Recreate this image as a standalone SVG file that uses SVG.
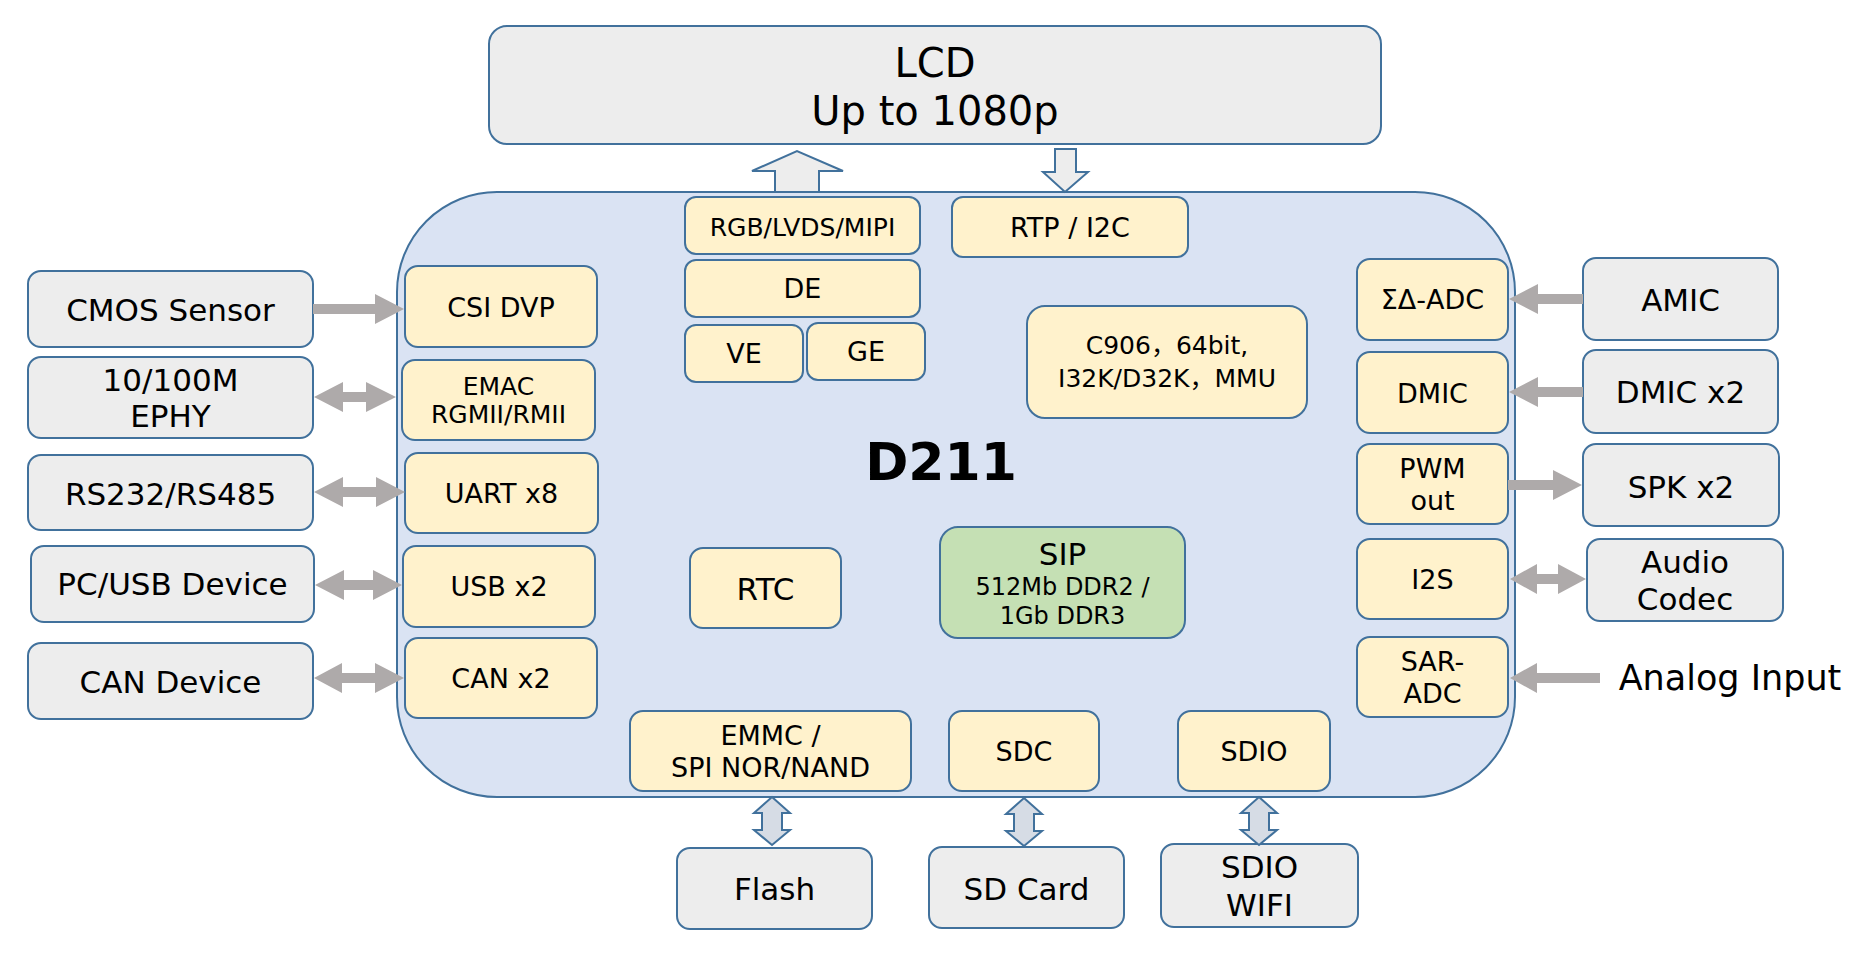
<svg xmlns="http://www.w3.org/2000/svg" width="1867" height="953" viewBox="0 0 1867 953">
<style>
  text { font-family: Verdana, "DejaVu Sans", "Noto Sans CJK SC", sans-serif; fill: #000; text-anchor: middle; }
  .grey { fill: #EDEDED; stroke: #41719C; stroke-width: 2; }
  .yel { fill: #FFF2CC; stroke: #41719C; stroke-width: 2; }
  .chip { fill: #DAE3F3; stroke: #41719C; stroke-width: 2; }
  .sip { fill: #C5E0B4; stroke: #41719C; stroke-width: 2; }
  .arr { fill: #AEAAAA; stroke: none; }
  .hol { fill: #EDEDED; stroke: #41719C; stroke-width: 2; stroke-linejoin: miter; }
  .hol2 { fill: #D6DCE5; stroke: #41719C; stroke-width: 2; stroke-linejoin: miter; }
  .t40 { font-size: 40px; }
  .t30 { font-size: 31px; }
  .t26 { font-size: 27px; }
  .t24 { font-size: 25px; }
  .t23 { font-size: 24px; }
  .cjk { font-family: "Noto Sans CJK SC", sans-serif; }
</style>
<rect width="1867" height="953" fill="#FFFFFF"/>

<g id="chip">
  <rect class="chip" x="397" y="192" width="1118" height="605" rx="100" ry="100"/>
  <text x="941" y="480" style="font-size:52px;font-weight:bold">D211</text>
</g>

<g id="lcd">
  <rect class="grey" x="489" y="26" width="892" height="118" rx="18" ry="18"/>
  <text class="t40" x="935" y="77">LCD</text>
  <text class="t40" x="935" y="125">Up to 1080p</text>
</g>

<g id="cmos"><rect class="grey" x="28" y="271" width="285" height="76" rx="13"/><text class="t30" x="170.5" y="321">CMOS Sensor</text></g>
<g id="ephy"><rect class="grey" x="28" y="357" width="285" height="81" rx="13"/><text class="t30" x="170.5" y="391">10/100M</text><text class="t30" x="170.5" y="427">EPHY</text></g>
<g id="rs232"><rect class="grey" x="28" y="455" width="285" height="75" rx="13"/><text class="t30" x="170.5" y="505">RS232/RS485</text></g>
<g id="pcusb"><rect class="grey" x="31" y="546" width="283" height="76" rx="13"/><text class="t30" x="172.5" y="595">PC/USB Device</text></g>
<g id="candev"><rect class="grey" x="28" y="643" width="285" height="76" rx="13"/><text class="t30" x="170.5" y="693">CAN Device</text></g>

<g id="csi"><rect class="yel" x="405" y="266" width="192" height="81" rx="13"/><text class="t26" x="501" y="317">CSI DVP</text></g>
<g id="emac"><rect class="yel" x="402" y="360" width="193" height="80" rx="13"/><text class="t24" x="498.5" y="395">EMAC</text><text class="t24" x="498.5" y="423">RGMII/RMII</text></g>
<g id="uart"><rect class="yel" x="405" y="453" width="193" height="80" rx="13"/><text class="t26" x="501.5" y="503">UART x8</text></g>
<g id="usb"><rect class="yel" x="403" y="546" width="192" height="81" rx="13"/><text class="t26" x="499" y="596">USB x2</text></g>
<g id="can"><rect class="yel" x="405" y="638" width="192" height="80" rx="13"/><text class="t26" x="501" y="688">CAN x2</text></g>

<g id="rgb"><rect class="yel" x="685" y="197" width="235" height="57" rx="11"/><text class="t24" x="802.5" y="236">RGB/LVDS/MIPI</text></g>
<g id="de"><rect class="yel" x="685" y="260" width="235" height="57" rx="11"/><text class="t26" x="802.5" y="298">DE</text></g>
<g id="ve"><rect class="yel" x="685" y="325" width="118" height="57" rx="11"/><text class="t26" x="744" y="363">VE</text></g>
<g id="ge"><rect class="yel" x="807" y="323" width="118" height="57" rx="11"/><text class="t26" x="866" y="361">GE</text></g>
<g id="rtp"><rect class="yel" x="952" y="197" width="236" height="60" rx="11"/><text class="t26" x="1070" y="237">RTP / I2C</text></g>
<g id="cpu"><rect class="yel" x="1027" y="306" width="280" height="112" rx="18"/><text class="t24" x="1167" y="354">C906<tspan class="cjk">，</tspan>64bit,</text><text class="t24" x="1167" y="387">I32K/D32K<tspan class="cjk">，</tspan>MMU</text></g>
<g id="rtc"><rect class="yel" x="690" y="548" width="151" height="80" rx="13"/><text class="t30" x="765.5" y="600">RTC</text></g>
<g id="sip"><rect class="sip" x="940" y="527" width="245" height="111" rx="18"/><text class="t30" x="1062.5" y="565">SIP</text><text class="t23" x="1062.5" y="595">512Mb DDR2 /</text><text class="t23" x="1062.5" y="624">1Gb DDR3</text></g>
<g id="emmc"><rect class="yel" x="630" y="711" width="281" height="80" rx="13"/><text class="t26" x="770.5" y="745">EMMC /</text><text class="t26" x="770.5" y="777">SPI NOR/NAND</text></g>
<g id="sdc"><rect class="yel" x="949" y="711" width="150" height="80" rx="13"/><text class="t26" x="1024" y="761">SDC</text></g>
<g id="sdio"><rect class="yel" x="1178" y="711" width="152" height="80" rx="13"/><text class="t26" x="1254" y="761">SDIO</text></g>

<g id="sdadc"><rect class="yel" x="1357" y="259" width="151" height="81" rx="13"/><text class="t26" x="1432.5" y="309">ΣΔ-ADC</text></g>
<g id="dmic"><rect class="yel" x="1357" y="352" width="151" height="81" rx="13"/><text class="t26" x="1432.5" y="403">DMIC</text></g>
<g id="pwm"><rect class="yel" x="1357" y="444" width="151" height="80" rx="13"/><text class="t26" x="1432.5" y="478">PWM</text><text class="t26" x="1432.5" y="510">out</text></g>
<g id="i2s"><rect class="yel" x="1357" y="539" width="151" height="80" rx="13"/><text class="t26" x="1432.5" y="589">I2S</text></g>
<g id="saradc"><rect class="yel" x="1357" y="637" width="151" height="80" rx="13"/><text class="t26" x="1432.5" y="671">SAR-</text><text class="t26" x="1432.5" y="703">ADC</text></g>

<g id="amic"><rect class="grey" x="1583" y="258" width="195" height="82" rx="13"/><text class="t30" x="1680.5" y="311">AMIC</text></g>
<g id="dmic2"><rect class="grey" x="1583" y="350" width="195" height="83" rx="13"/><text class="t30" x="1680.5" y="403">DMIC x2</text></g>
<g id="spk"><rect class="grey" x="1583" y="444" width="196" height="82" rx="13"/><text class="t30" x="1681" y="498">SPK x2</text></g>
<g id="codec"><rect class="grey" x="1587" y="539" width="196" height="82" rx="13"/><text class="t30" x="1685" y="573">Audio</text><text class="t30" x="1685" y="610">Codec</text></g>
<g id="analog"><text x="1730" y="690" style="font-size:35px">Analog Input</text></g>

<g id="flash"><rect class="grey" x="677" y="848" width="195" height="81" rx="13"/><text class="t30" x="774.5" y="900">Flash</text></g>
<g id="sdcard"><rect class="grey" x="929" y="847" width="195" height="81" rx="13"/><text class="t30" x="1026.5" y="900">SD Card</text></g>
<g id="wifi"><rect class="grey" x="1161" y="844" width="197" height="83" rx="13"/><text class="t30" x="1259.5" y="878">SDIO</text><text class="t30" x="1259.5" y="916">WIFI</text></g>

<g id="connectors">
  <polygon class="arr" points="313,304 375,304 375,294 404,309 375,324 375,314 313,314"/>
  <polygon class="arr" points="314,397 343,382 343,392 366,392 366,382 396,397 366,412 366,402 343,402 343,412"/>
  <polygon class="arr" points="314,492 343,477 343,487 376,487 376,477 405,492 376,507 376,497 343,497 343,507"/>
  <polygon class="arr" points="315,585 344,570 344,580 373,580 373,570 402,585 373,600 373,590 344,590 344,600"/>
  <polygon class="arr" points="314,678 342,663 342,673 375,673 375,663 404,678 375,693 375,683 342,683 342,693"/>
  <polygon class="arr" points="1583,294 1538,294 1538,284 1509,299 1538,314 1538,304 1583,304"/>
  <polygon class="arr" points="1583,387 1538,387 1538,377 1509,392 1538,407 1538,397 1583,397"/>
  <polygon class="arr" points="1508,480 1553,480 1553,470 1582,485 1553,500 1553,490 1508,490"/>
  <polygon class="arr" points="1510,579 1537,564 1537,574 1558,574 1558,564 1586,579 1558,594 1558,584 1537,584 1537,594"/>
  <polygon class="arr" points="1600,673 1537,673 1537,663 1510,678 1537,693 1537,683 1600,683"/>
  <polygon class="hol" points="775,192 775,171 752,171 797,151 843,171 819,171 819,192"/>
  <polygon class="hol" points="1055,149 1076,149 1076,172 1088,172 1065,192 1043,172 1055,172"/>
  <polygon class="hol2" points="772,797 790,813 782,813 782,830 790,830 772,845 754,830 762,830 762,813 754,813"/>
  <polygon class="hol2" points="1024,798 1042,814 1034,814 1034,831 1042,831 1024,846 1006,831 1014,831 1014,814 1006,814"/>
  <polygon class="hol2" points="1259,797 1277,813 1269,813 1269,830 1277,830 1259,845 1241,830 1249,830 1249,813 1241,813"/>
</g>
</svg>
